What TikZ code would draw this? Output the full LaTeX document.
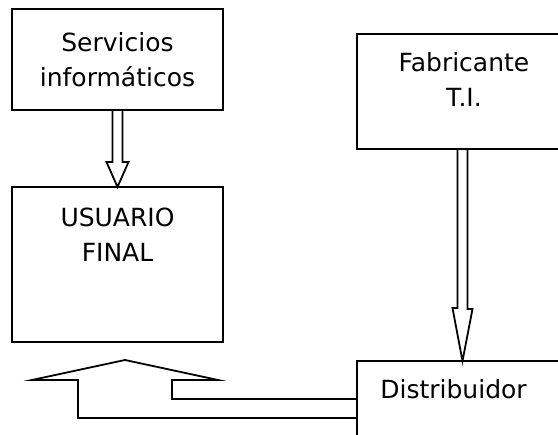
\documentclass[tikz,border=0pt]{standalone}
\usepackage{fontspec}
\setmainfont{DejaVu Sans}
\usetikzlibrary{calc}
\begin{document}
\begin{tikzpicture}[
  x=1pt, y=-1pt,
  box/.style={rectangle, draw, line width=2pt, minimum width=211pt, outer sep=0pt, inner sep=0pt},
  boxtext/.style={align=center, inner sep=0pt, font=\fontsize{25}{35}\selectfont},
  hollow/.style={draw, line width=1.8pt, line join=miter}
]
\clip (0,0) rectangle (558,435);

% Boxes
\node[box, boxtext, minimum height=101pt] (serv) at (117.5,59.5) {Servicios\\informáticos};
\node[box, minimum height=155pt] (usuario) at (117.5,264.5) {};
\node[box, minimum height=115pt] (fab) at (462.5,91.5) {};
\node[box, minimum height=119pt] (dist) at (462.5,420.5) {};

% Box texts
\node[boxtext, anchor=north] (usutext) at (117.5,208) {USUARIO\\FINAL};
\node[boxtext, anchor=north] (fabtext) at (464,52) {Fabricante\\T.I.};
\node[boxtext, anchor=north] (disttext) at (453.5,379) {Distribuidor};

\coordinate (uptip) at (125,360);

% Hollow arrows
\draw[hollow] (serv.south) ++(-5,0) -- ++(0,52) -- ++(-6,0) -- (usuario.north)
  -- ++(11,-25) -- ++(-6,0) -- ++(0,-52);
\draw[hollow] (fab.south) ++(-5,0) -- ++(0,159) -- ++(-5,0) -- (dist.north)
  -- ++(10,-52) -- ++(-5,0) -- ++(0,-159);
\draw[hollow] (dist.west |- 0,399) -| ($(uptip)+(47,20)$) -- ++(46,0) -- (uptip)
  -- ++(-93,20) -- ++(46,0) |- (dist.west |- 0,418);

\end{tikzpicture}
\end{document}
